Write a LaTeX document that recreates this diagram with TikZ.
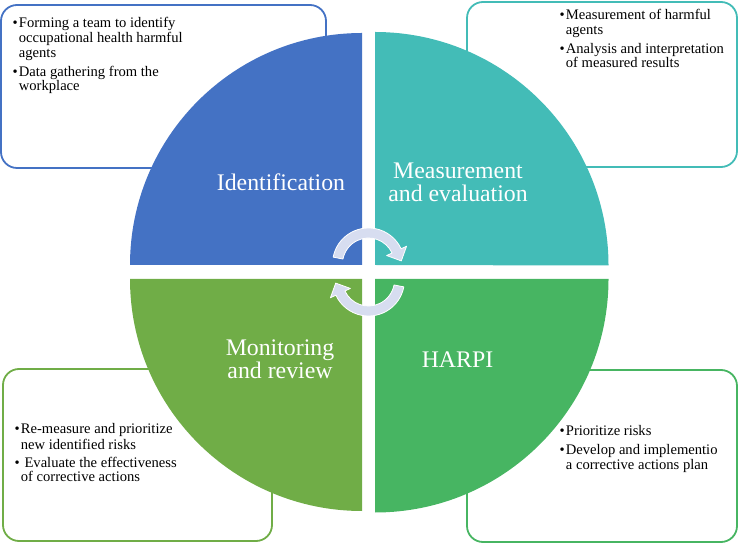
\documentclass[tikz,border=0pt]{standalone}
\usepackage{fontspec}
\setmainfont{Liberation Serif}
\definecolor{cblue}{HTML}{4472C4}
\definecolor{cteal}{HTML}{43BCB7}
\definecolor{cgreenA}{HTML}{70AD47}
\definecolor{cgreenB}{HTML}{47B562}
\definecolor{arrowfill}{HTML}{D7DDF0}
\newcommand\bmark{\makebox[6.2pt][l]{•}}
\newcommand\cind{\hspace*{6.2pt}}
\begin{document}
\begin{tikzpicture}[x=1pt,y=1pt,
  boxline/.style={line width=1.8pt, rounded corners=16pt},
  heading/.style={text=white, font=\fontsize{23.8}{23.7}\selectfont, inner sep=0pt, align=center},
  bodytext/.style={font=\fontsize{14.6}{14.3}\selectfont, inner sep=0pt, align=left, anchor=north west},
  cycarrow/.style={fill=arrowfill, draw=white, line width=0.8pt, line join=round}]
\useasboundingbox (0,0) rectangle (738,546);
% boxes behind the circle
\draw[boxline, cblue]   (1,378) rectangle (326,541);
\draw[boxline, cteal]   (467,379) rectangle (737,544);
\draw[boxline, cgreenA] (3,5) rectangle (272,177);
\draw[boxline, cgreenB] (467,4) rectangle (737,176);
% quadrants
\fill[cblue]   (362,281) -- ++(-232,0) arc[start angle=180, end angle=90, radius=232] -- cycle;
\fill[cteal]   (375,281) -- ++(0,233) arc[start angle=90, end angle=0, radius=233.5] -- cycle;
\fill[cgreenA] (362,267) -- ++(-232,0) arc[start angle=180, end angle=270, radius=232] -- cycle;
\fill[cgreenB] (375,267) -- ++(233.5,0) arc[start angle=0, end angle=-90, radius=233.5] -- cycle;
% cycle arrows
\begin{scope}[shift={(368.5,282)}]
  \filldraw[cycarrow] (169:36) arc[start angle=169, end angle=25, radius=36] -- (25:42) -- (32.8,3.1) -- (25:20) -- (25:26) arc[start angle=25, end angle=169, radius=26] -- cycle;
\end{scope}
\begin{scope}[shift={(368.5,266)}, rotate=180]
  \filldraw[cycarrow] (169:36) arc[start angle=169, end angle=25, radius=36] -- (25:42) -- (32.8,3.1) -- (25:20) -- (25:26) arc[start angle=25, end angle=169, radius=26] -- cycle;
\end{scope}
% headings
\node[heading, anchor=base] (ident) at (281,355.3) {Identification};
\node[heading, anchor=north] (meas) at (458,384.6) {\strut Measurement\\and evaluation};
\node[heading, anchor=north] (monit) at (280,207.6) {\strut Monitoring\\and review};
\node[heading, anchor=base] (harpi) at (457.5,178) {HARPI};
% box texts
\node[bodytext] (tltext) at (12.5,529.3) {\strut\bmark Forming a team to identify\\
  \cind occupational health harmful\\
  \cind agents\\[5pt]
  \bmark Data gathering from the\\
  \cind workplace};
\node[bodytext] (trtext) at (559.5,536.7) {\strut\bmark Measurement of harmful\\
  \cind agents\\[5pt]
  \bmark Analysis and interpretation\\
  \cind of measured results};
\node[bodytext] (bltext) at (14.5,122.7) {\strut\bmark Re-measure and prioritize\\
  \cind new identified risks\\[4pt]
  \bmark\ Evaluate the effectiveness\\
  \cind of corrective actions};
\node[bodytext] (brtext) at (559.5,121) {\strut\bmark Prioritize risks\\[4pt]
  \bmark Develop and implementio\\
  \cind a corrective actions plan};
\end{tikzpicture}
\end{document}
